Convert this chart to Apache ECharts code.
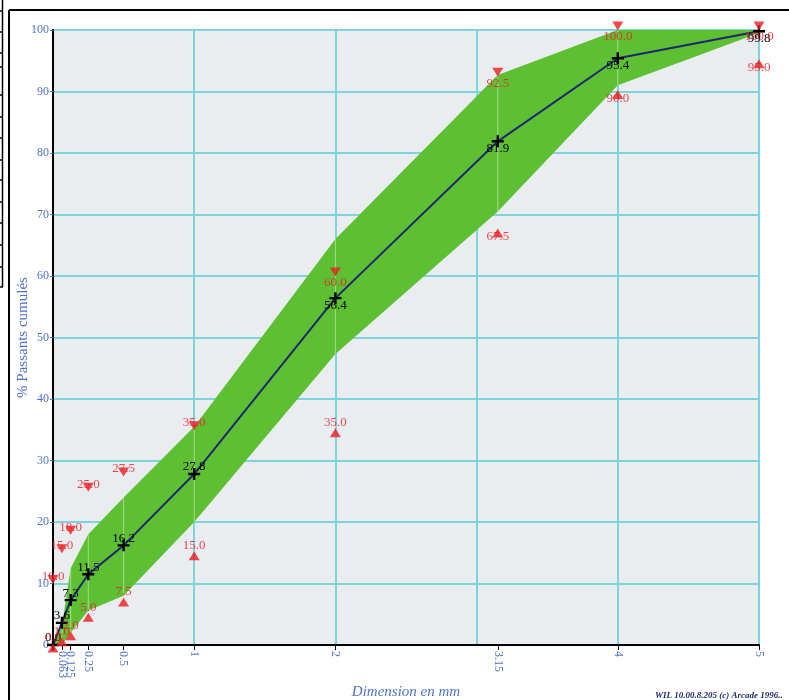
<!DOCTYPE html>
<html>
<head>
<meta charset="utf-8">
<script src="https://cdn.jsdelivr.net/npm/echarts@6/dist/echarts.min.js"></script>
<style>html,body{margin:0;padding:0;background:#fff;}#c{width:789px;height:700px;}</style>
</head>
<body>
<div id="c"></div>
<script>
const sieves = [0, 0.063, 0.125, 0.25, 0.5, 1, 2, 3.15, 4, 5];
const tickValues = [0.063, 0.125, 0.25, 0.5, 1, 2, 3.15, 4, 5];
const tickLabels = ['0.063', '0.125', '0.25', '0.5', '1', '2', '3.15', '4', '5'];
const yTickValues = [0, 10, 20, 30, 40, 50, 60, 70, 80, 90, 100];
const passing = [0.0, 3.6, 7.3, 11.5, 16.2, 27.8, 56.4, 81.9, 95.4, 99.8];
const specUpper = [10.0, 15.0, 18.0, 25.0, 27.5, 35.0, 60.0, 92.5, 100.0, 100.0];
const specLower = [0.0, 1.0, 2.0, 5.0, 7.5, 15.0, 35.0, 67.5, 90.0, 95.0];
const bandUpper = [0, 3, 12.5, 18, 24, 35.5, 66, 92.7, 100, 100];
const bandLower = [0, 0, 2, 5.6, 8, 20, 47.3, 70.5, 91, 99.5];

const SERIF = '"Liberation Serif", "DejaVu Serif", serif';
const BLUE = '#4f72c8';
const RED = '#ec1c24';
const GRIDC = '#7fd3dc';

const chart = echarts.init(document.getElementById('c'), null, {renderer: 'canvas'});

function labelled(vals, above, below) {
  return sieves.map((s, i) => ({
    value: [s, vals[i]],
    label: {offset: [0, vals[i] < 50 ? above : below]}
  }));
}
const fmt = p => p.value[1].toFixed(1);
const xFmt = v => { const i = tickValues.indexOf(v); return i >= 0 ? tickLabels[i] : ''; };
// alternate ticks split over two bottom axes so close labels are not dropped
const tickSetA = tickValues.filter((v, i) => i !== 1);
const tickSetB = tickValues.filter((v, i) => i === 1);
const xLabelBase = {rotate: -90, margin: 6, hideOverlap: false, fontFamily: SERIF, fontSize: 12, color: BLUE, formatter: xFmt};

const option = {
  animation: false,
  backgroundColor: '#fff',
  grid: {left: 53, right: 30, top: 30, bottom: 55, show: true, outerBoundsMode: 'none',
    backgroundColor: '#e9edf0', borderColor: '#000', borderWidth: 2, containLabel: false},
  xAxis: [{
    type: 'value', min: 0, max: 5, interval: 1, position: 'bottom', offset: 0,
    name: 'Dimension en mm', nameLocation: 'middle', nameGap: 40, nameMoveOverlap: false,
    nameTextStyle: {fontFamily: SERIF, fontStyle: 'italic', fontSize: 15, color: BLUE},
    axisLine: {show: true, lineStyle: {color: '#000', width: 2}},
    axisTick: {show: true, customValues: tickValues, length: 5, lineStyle: {color: '#000', width: 1}},
    axisLabel: Object.assign({customValues: tickSetA}, xLabelBase),
    splitLine: {show: false}
  }, {
    type: 'value', min: 0, max: 5, interval: 1, position: 'top',
    axisLine: {show: false}, axisTick: {show: false}, axisLabel: {show: false},
    splitLine: {show: true, lineStyle: {color: GRIDC, width: 2}}
  }, {
    type: 'value', min: 0, max: 5, interval: 1, position: 'bottom', offset: 0,
    axisLine: {show: false}, axisTick: {show: false},
    axisLabel: Object.assign({customValues: tickSetB}, xLabelBase),
    splitLine: {show: false}
  }],
  yAxis: {
    type: 'value', min: 0, max: 100, interval: 5,
    name: '% Passants cumulés', nameLocation: 'middle', nameGap: 22, nameRotate: 90, nameMoveOverlap: false,
    nameTextStyle: {fontFamily: SERIF, fontSize: 15, color: BLUE},
    axisLine: {show: true, lineStyle: {color: '#000', width: 2}},
    axisTick: {show: true, customValues: yTickValues, length: 3, lineStyle: {color: BLUE, width: 1}},
    axisLabel: {customValues: yTickValues, margin: 4, fontFamily: SERIF, fontSize: 12, color: BLUE},
    splitLine: {show: true, lineStyle: {color: GRIDC, width: 2}}
  },
  graphic: [
    {type: 'line', shape: {x1: 9, y1: 10, x2: 789, y2: 10}, style: {stroke: '#000', lineWidth: 2}},
    {type: 'line', shape: {x1: 9, y1: 10, x2: 9, y2: 700}, style: {stroke: '#000', lineWidth: 2}},
    {type: 'line', shape: {x1: 2.5, y1: 0, x2: 2.5, y2: 287}, style: {stroke: '#000', lineWidth: 1.5}},
  ].concat([11, 32, 53, 67, 95, 117, 138, 160, 180, 202, 223, 245, 267, 287].map(y => (
    {type: 'line', shape: {x1: 0, y1: y, x2: 3, y2: y}, style: {stroke: '#000', lineWidth: 1.5}}
  ))).concat([
    {type: 'text', left: 655, top: 691, style: {text: 'WIL 10.00.8.205 (c) Arcade 1996..',
      font: 'italic bold 9px ' + SERIF, fill: '#1d2a70'}}
  ]),
  series: [
    {
      type: 'custom', z: 2, silent: true,
      data: sieves.map((s, i) => [s, bandLower[i], bandUpper[i]]),
      renderItem: function (params, api) {
        const i = params.dataIndex;
        const children = [];
        if (i === 0) {
          const pts = [];
          for (let k = 0; k < sieves.length; k++) pts.push(api.coord([sieves[k], bandUpper[k]]));
          for (let k = sieves.length - 1; k >= 0; k--) pts.push(api.coord([sieves[k], bandLower[k]]));
          children.push({type: 'polygon', shape: {points: pts}, style: {fill: '#5dc033'}});
        } else {
          const a = api.coord([api.value(0), api.value(1)]);
          const b = api.coord([api.value(0), api.value(2)]);
          children.push({type: 'line', shape: {x1: a[0], y1: a[1], x2: b[0], y2: b[1]},
            style: {stroke: 'rgba(220,240,210,0.55)', lineWidth: 1}});
        }
        return {type: 'group', children: children};
      }
    },
    {
      type: 'line', z: 4,
      data: labelled(passing, -7, 7),
      lineStyle: {color: '#1f2670', width: 2},
      symbol: 'path://M4,0H6V10H4Z M0,4H10V6H0Z', symbolSize: 12,
      itemStyle: {color: '#000'},
      label: {show: true, position: 'inside', formatter: fmt, fontFamily: SERIF, fontSize: 13, color: '#000'}
    },
    {
      type: 'scatter', z: 5,
      data: labelled(specUpper, -3, 11),
      symbol: 'path://M0,0L10,0L5,9Z', symbolSize: [11, 9], symbolOffset: [0, -4],
      itemStyle: {color: RED},
      label: {show: true, position: 'inside', formatter: fmt, fontFamily: SERIF, fontSize: 13, color: RED}
    },
    {
      type: 'scatter', z: 5,
      data: labelled(specLower, -10, 4),
      symbol: 'triangle', symbolSize: [11, 9], symbolOffset: [0, 3],
      itemStyle: {color: RED},
      label: {show: true, position: 'inside', formatter: fmt, fontFamily: SERIF, fontSize: 13, color: RED}
    }
  ]
};
chart.setOption(option);
</script>
</body>
</html>
